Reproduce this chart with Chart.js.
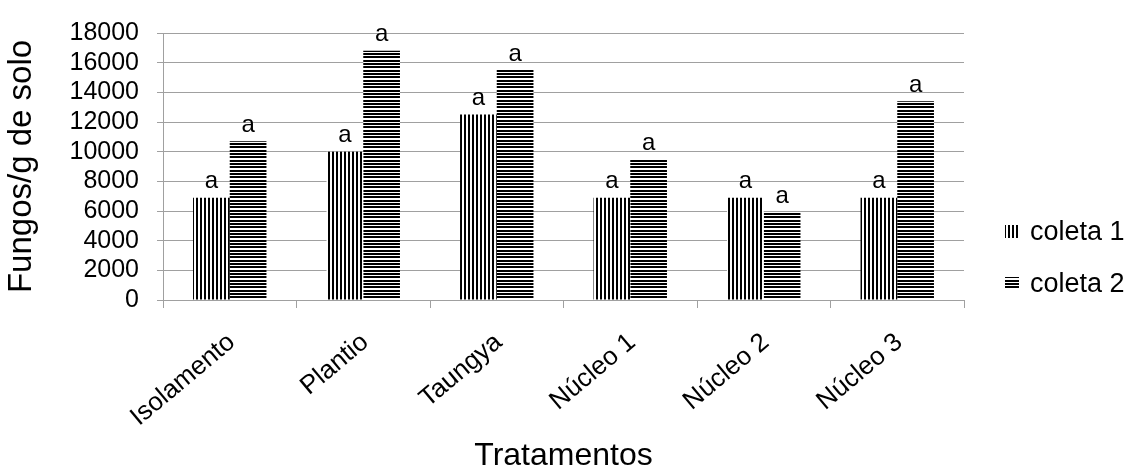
<!DOCTYPE html>
<html>
<head>
<meta charset="utf-8">
<script src="https://cdn.jsdelivr.net/npm/chart.js@4.4.1/dist/chart.umd.min.js"></script>
<style>
  html, body { margin: 0; padding: 0; background: #fff; }
  #wrap { width: 1131px; height: 472px; }
</style>
</head>
<body>
<div id="wrap"><canvas id="fungiChart"></canvas></div>
<script>
// Fungos/g de solo por tratamento
const categories = ['Isolamento', 'Plantio', 'Taungya', 'Núcleo 1', 'Núcleo 2', 'Núcleo 3'];
const coleta1 = [6900, 10000, 12500, 6900, 6900, 6900];
const coleta2 = [10700, 16800, 15500, 9500, 5900, 13400];
const letras1 = ['a', 'a', 'a', 'a', 'a', 'a'];
const letras2 = ['a', 'a', 'a', 'a', 'a', 'a'];
const yTicks = [0, 2000, 4000, 6000, 8000, 10000, 12000, 14000, 16000, 18000];

const FONT = "'Liberation Sans', Arial, sans-serif";
const GRID = '#a0a0a0';

// hatch patterns (vertical lines / horizontal lines)
function makePattern(type) {
    const c = document.createElement('canvas');
    const x = c.getContext('2d');
    if (type === 'v') {
        c.width = 4; c.height = 1;
        x.fillStyle = '#fff'; x.fillRect(0, 0, 4, 1);
        x.fillStyle = '#000'; x.fillRect(0, 0, 2, 1);
    } else {
        c.width = 1; c.height = 10;
        x.fillStyle = '#fff'; x.fillRect(0, 0, 1, 10);
        x.fillStyle = '#000';
        x.fillRect(0, 0, 1, 2);
        x.fillRect(0, 3, 1, 2);
        x.fillRect(0, 6, 1, 2);
    }
    return x.createPattern(c, 'repeat');
}

const ctx = document.getElementById('fungiChart').getContext('2d');
const patV = makePattern('v');
const patH = makePattern('h');

// "a" letters above the bars
const letterPlugin = {
    id: 'letterPlugin',
    afterDatasetsDraw(chart) {
        const c = chart.ctx;
        const letters = [letras1, letras2];
        c.save();
        c.font = '24px ' + FONT;
        c.fillStyle = '#000';
        c.textAlign = 'center';
        c.textBaseline = 'bottom';
        chart.data.datasets.forEach((ds, i) => {
            chart.getDatasetMeta(i).data.forEach((bar, j) => {
                c.fillText(letters[i][j], bar.x, bar.y - 4);
            });
        });
        c.restore();
    }
};

// legend on the right, like the original
const sideLegend = {
    id: 'sideLegend',
    afterDraw(chart) {
        const c = chart.ctx;
        const rows = [232, 284];
        c.save();
        c.font = '27px ' + FONT;
        c.textBaseline = 'middle';
        c.textAlign = 'left';
        chart.data.datasets.forEach((ds, i) => {
            const y = rows[i];
            c.fillStyle = ds.backgroundColor;
            c.fillRect(1005, y - 7, 14, 13);
            c.fillStyle = '#000';
            c.fillText(ds.label, 1030, y + 1);
        });
        c.restore();
    }
};

new Chart(ctx, {
    type: 'bar',
    data: {
        labels: categories,
        datasets: [
            { label: 'coleta 1', data: coleta1, backgroundColor: patV, borderWidth: 0 },
            { label: 'coleta 2', data: coleta2, backgroundColor: patH, borderWidth: 0 }
        ]
    },
    options: {
        responsive: true,
        maintainAspectRatio: false,
        animation: false,
        layout: { padding: { top: 29, right: 167, left: 0, bottom: 0 } },
        datasets: { bar: { categoryPercentage: 0.55, barPercentage: 1.0 } },
        plugins: {
            legend: { display: false },
            tooltip: { enabled: false }
        },
        scales: {
            x: {
                offset: true,
                grid: { offset: true, drawOnChartArea: false, color: GRID, tickLength: 8 },
                border: { color: GRID },
                ticks: {
                    color: '#000',
                    font: { family: FONT, size: 26 },
                    minRotation: 40, maxRotation: 40,
                    padding: 19,
                    labelOffset: 2,
                    autoSkip: false
                },
                title: {
                    display: true, text: 'Tratamentos', color: '#000',
                    font: { family: FONT, size: 32, lineHeight: 1 },
                    padding: { top: 0, bottom: 0 }
                },
                afterFit(scale) { scale.height = 172; }
            },
            y: {
                min: 0, max: 18000,
                afterBuildTicks(scale) { scale.ticks = yTicks.map(v => ({ value: v })); },
                grid: { color: GRID, tickLength: 6 },
                border: { color: GRID },
                ticks: {
                    color: '#000',
                    font: { family: FONT, size: 25 },
                    padding: 18,
                    autoSkip: false,
                    callback: v => String(v)
                },
                title: {
                    display: true, text: 'Fungos/g de solo', color: '#000',
                    font: { family: FONT, size: 33, lineHeight: 1.1 },
                    padding: { top: 4, bottom: 0 }
                },
                afterFit(scale) { scale.width = 163; }
            }
        }
    },
    plugins: [letterPlugin, sideLegend]
});
</script>
</body>
</html>
